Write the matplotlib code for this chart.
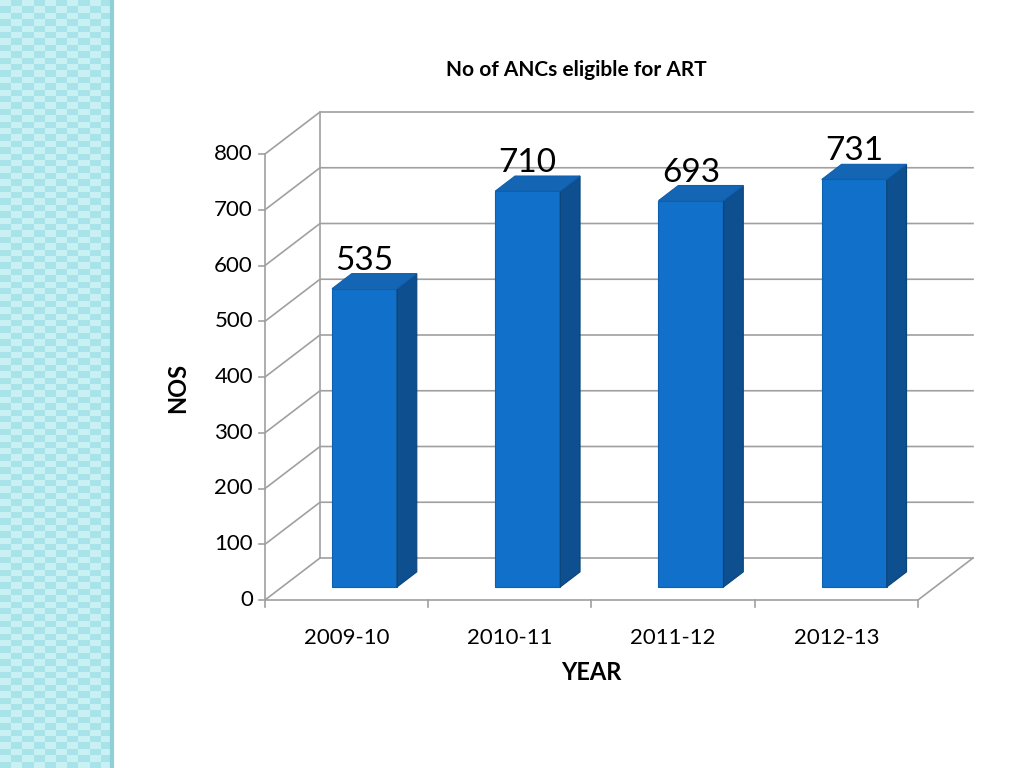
import matplotlib
matplotlib.use("Agg")
import matplotlib.pyplot as plt
from matplotlib.patches import Polygon
import numpy as np

categories = ["2009-10", "2010-11", "2011-12", "2012-13"]
values = [535, 710, 693, 731]
yticks = [0, 100, 200, 300, 400, 500, 600, 700, 800]

W, H = 1024, 768
fig = plt.figure(figsize=(W/100, H/100), dpi=100)
fig.patch.set_facecolor("white")

sax = fig.add_axes([0, 0, 112/W, 1])
n = 60
pat = np.indices((n*2, 10)).sum(axis=0) % 2
sax.imshow(pat, cmap=matplotlib.colors.ListedColormap(["#c9f0f3", "#a8e3ea"]),
           aspect="auto", interpolation="nearest")
sax.axis("off")
fig.add_artist(plt.Line2D([112/W, 112/W], [0, 1], color="#8fd0d8", lw=3))

ax = fig.add_axes([120/W, 0, (W-120)/W, 1])
ux = 4/653; uy = 800/446
x0px, y0px = 265, 600
ax.set_xlim(-0.5 - (x0px-120)*ux, -0.5 + (W-x0px)*ux)
ax.set_ylim(-(H-y0px)*uy, y0px*uy)
ax.axis("off")

dx, dy = 55*ux, 42*uy
grid = "#a0a0a0"
for v in yticks:
    ax.plot([-0.5, -0.5+dx, 3.5+dx], [v, v+dy, v+dy], color=grid, lw=1.2)
    ax.plot([-0.5-6*ux, -0.5], [v, v], color=grid, lw=1.2)
    ax.text(-0.5-12*ux, v, str(v), ha="right", va="center", fontsize=16, family="Lato")
ax.plot([-0.5, -0.5], [0, 800], color=grid, lw=1.2)
ax.plot([-0.5+dx, -0.5+dx], [dy, 800+dy], color=grid, lw=1.2)
ax.plot([-0.5, 3.5, 3.5+dx], [0, 0, dy], color=grid, lw=1.2)
for i in range(5):
    ax.plot([i-0.5, i-0.5], [0, -7*uy], color=grid, lw=1.2)

f0, f1 = 0.31, 0.67
for i, (c, v) in enumerate(zip(categories, values)):
    w = 65/163.25
    ox, oy = f0*dx, f0*dy
    fl = i - 0.5 + 67/163.25 - ox + ox
    d1x, d1y = (f1-f0)*dx, (f1-f0)*dy
    front = [(fl, oy), (fl+w, oy), (fl+w, v+oy), (fl, v+oy)]
    ax.add_patch(Polygon(front, closed=True, fc="#1170c9", ec="#0e5fae", lw=0.8, zorder=3))
    side = [(fl+w, oy), (fl+w+d1x, oy+d1y), (fl+w+d1x, v+oy+d1y), (fl+w, v+oy)]
    ax.add_patch(Polygon(side, closed=True, fc="#0d4f8f", ec="#0b4477", lw=0.8, zorder=3))
    top = [(fl, v+oy), (fl+w, v+oy), (fl+w+d1x, v+oy+d1y), (fl+d1x, v+oy+d1y)]
    ax.add_patch(Polygon(top, closed=True, fc="#1565b5", ec="#0e5fae", lw=0.8, zorder=3))
    ax.text(fl+w/2, v+oy+28*uy, str(v), ha="center", va="center",
            fontsize=24, family="Lato", zorder=4)
    ax.text(i, -38*uy, c, ha="center", va="center", fontsize=16, family="Lato")

ax.text(1.5, -73*uy, "YEAR", ha="center", va="center", fontsize=17, fontweight="bold", family="Lato")
ax.text(-0.5-87*ux, 380, "NOS", ha="center", va="center", rotation=90,
        fontsize=17, fontweight="bold", family="Lato")
ax.text(1.5 + 0.2*dx - 0.16, 950, "No of ANCs eligible for ART", ha="center", va="center",
        fontsize=15, fontweight="bold", family="Lato")

fig.savefig("out.png", dpi=100)
